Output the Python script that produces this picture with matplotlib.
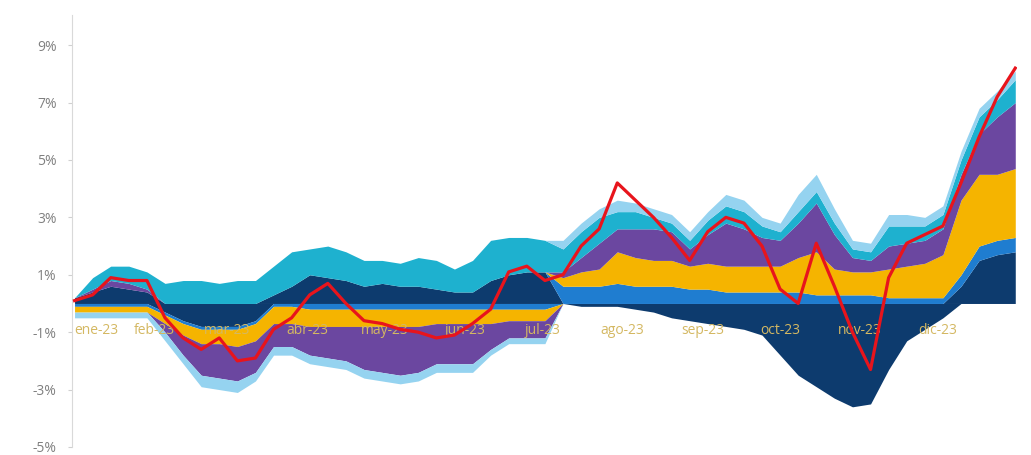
import numpy as np
import pandas as pd
import matplotlib
matplotlib.use('Agg')
import matplotlib.pyplot as plt

plt.rcParams['font.family'] = ['Open Sans', 'DejaVu Sans']

# weekly observations through 2023 (contribution to return, %)
dates = pd.date_range('2023-01-01', periods=53, freq='7D')

navy = [0.2, 0.4, 0.6, 0.5, 0.4, -0.3, -0.6, -0.8, -0.8, -0.8, -0.6, 0.3, 0.6,
        1.0, 0.9, 0.8, 0.6, 0.7, 0.6, 0.6, 0.5, 0.4, 0.4, 0.8, 1.0, 1.1, 1.1,
        0.0, -0.1, -0.1, -0.1, -0.2, -0.3, -0.5, -0.6, -0.7, -0.8, -0.9, -1.1,
        -1.8, -2.5, -2.9, -3.3, -3.6, -3.5, -2.3, -1.3, -0.9, -0.5, 0.6, 1.5,
        1.7, 1.8]
mid_blue = [-0.1, -0.1, -0.1, -0.1, -0.1, -0.1, -0.1, -0.1, -0.1, -0.1, -0.1,
            -0.1, -0.1, -0.2, -0.2, -0.2, -0.2, -0.2, -0.2, -0.2, -0.2, -0.2,
            -0.2, -0.2, -0.2, -0.2, -0.2, 0.6, 0.6, 0.6, 0.7, 0.6, 0.6, 0.6,
            0.5, 0.5, 0.4, 0.4, 0.4, 0.4, 0.4, 0.3, 0.3, 0.3, 0.3, 0.2, 0.2,
            0.2, 0.2, 0.4, 0.5, 0.5, 0.5]
gold = [-0.2, -0.2, -0.2, -0.2, -0.2, -0.3, -0.4, -0.5, -0.5, -0.6, -0.6, -0.6,
        -0.6, -0.6, -0.6, -0.6, -0.6, -0.6, -0.6, -0.6, -0.5, -0.5, -0.5, -0.5,
        -0.4, -0.4, -0.4, 0.3, 0.5, 0.6, 1.1, 1.0, 0.9, 0.9, 0.8, 0.9, 0.9,
        0.9, 0.9, 0.9, 1.2, 1.5, 0.9, 0.8, 0.8, 1.0, 1.1, 1.2, 1.5, 2.6, 2.5,
        2.3, 2.4]
purple = [0.0, 0.1, 0.2, 0.2, 0.1, -0.3, -0.7, -1.1, -1.2, -1.2, -1.1, -0.8,
          -0.8, -1.0, -1.1, -1.2, -1.5, -1.6, -1.7, -1.6, -1.4, -1.4, -1.4,
          -0.9, -0.6, -0.6, -0.6, 0.2, 0.5, 0.9, 0.8, 1.0, 1.1, 1.0, 0.6, 1.0,
          1.5, 1.3, 1.0, 0.9, 1.2, 1.7, 1.2, 0.5, 0.4, 0.8, 0.8, 0.8, 0.9, 0.9,
          1.4, 2.0, 2.3]
teal = [0.0, 0.4, 0.5, 0.6, 0.6, 0.7, 0.8, 0.8, 0.7, 0.8, 0.8, 1.0, 1.2, 0.9,
        1.1, 1.0, 0.9, 0.8, 0.8, 1.0, 1.0, 0.8, 1.1, 1.4, 1.3, 1.2, 1.1, 0.8,
        0.9, 0.9, 0.6, 0.6, 0.4, 0.3, 0.3, 0.5, 0.6, 0.6, 0.4, 0.3, 0.4, 0.4,
        0.4, 0.3, 0.3, 0.7, 0.6, 0.5, 0.5, 0.5, 0.6, 0.6, 0.8]
light_blue = [-0.2, -0.2, -0.2, -0.2, -0.2, -0.3, -0.3, -0.4, -0.4, -0.4, -0.3,
              -0.3, -0.3, -0.3, -0.3, -0.3, -0.3, -0.3, -0.3, -0.3, -0.3, -0.3,
              -0.3, -0.2, -0.2, -0.2, -0.2, 0.3, 0.3, 0.3, 0.4, 0.3, 0.3, 0.3,
              0.3, 0.3, 0.4, 0.4, 0.3, 0.3, 0.6, 0.6, 0.5, 0.3, 0.3, 0.4, 0.4,
              0.3, 0.3, 0.3, 0.3, 0.3, 0.3]
total = [0.1, 0.3, 0.9, 0.8, 0.8, -0.5, -1.2, -1.6, -1.2, -2.0, -1.9, -0.9,
         -0.5, 0.3, 0.7, 0.0, -0.6, -0.7, -0.9, -1.0, -1.2, -1.1, -0.7, -0.2,
         1.1, 1.3, 0.8, 1.0, 2.0, 2.6, 4.2, 3.6, 3.0, 2.3, 1.5, 2.5, 3.0, 2.8,
         2.0, 0.5, 0.0, 2.1, 0.6, -1.0, -2.3, 0.9, 2.1, 2.4, 2.7, 4.2, 5.8,
         7.2, 8.2]

series = [navy, mid_blue, gold, purple, teal, light_blue]
colors = ['#0d3b6e', '#1f7dd0', '#f5b400', '#6b47a0', '#1eb1cf', '#95d3f0']

month_names = ['ene', 'feb', 'mar', 'abr', 'may', 'jun',
               'jul', 'ago', 'sep', 'oct', 'nov', 'dic']
y_ticks = [9, 7, 5, 3, 1, -1, -3, -5]

fig = plt.figure(figsize=(10.31, 4.55), dpi=100)
ax = fig.add_axes([0.0698, 0.0176, 0.9162, 0.9494])

# stack positives upward and negatives downward
pos_base = np.zeros(len(dates))
neg_base = np.zeros(len(dates))
for vals, c in zip(series, colors):
    v = np.array(vals)
    pos = np.clip(v, 0, None)
    neg = np.clip(v, None, 0)
    ax.fill_between(dates, pos_base, pos_base + pos, color=c, lw=0, zorder=1)
    ax.fill_between(dates, neg_base, neg_base + neg, color=c, lw=0, zorder=1)
    pos_base = pos_base + pos
    neg_base = neg_base + neg

ax.plot(dates, total, color='#e8141c', lw=2.3, zorder=4)

ax.set_ylim(-5, 10.05)
ax.set_xlim(dates[0] - pd.Timedelta(days=1), dates[-1] + pd.Timedelta(days=0.5))
ax.set_yticks(y_ticks)
ax.set_yticklabels([f'{t}%' for t in y_ticks])
ax.tick_params(axis='y', colors='#d0d0d0', labelcolor='#808080', labelsize=10,
               length=3, pad=8)

# month labels just under the zero line
ax.spines['bottom'].set_position(('data', 0))
ax.spines['bottom'].set_visible(False)
month_ticks = pd.date_range('2023-01-01', periods=12, freq='MS')
ax.set_xticks(month_ticks)
ax.set_xticklabels([f'{m}-23' for m in month_names])
ax.tick_params(axis='x', length=0, pad=14, labelcolor='#d4b862', labelsize=10)
ax.get_xticklabels()[0].set_horizontalalignment('left')
ax.xaxis.set_zorder(3)

for s in ['top', 'right']:
    ax.spines[s].set_visible(False)
ax.spines['left'].set_color('#d9d9d9')

fig.savefig('out.png', dpi=100)
